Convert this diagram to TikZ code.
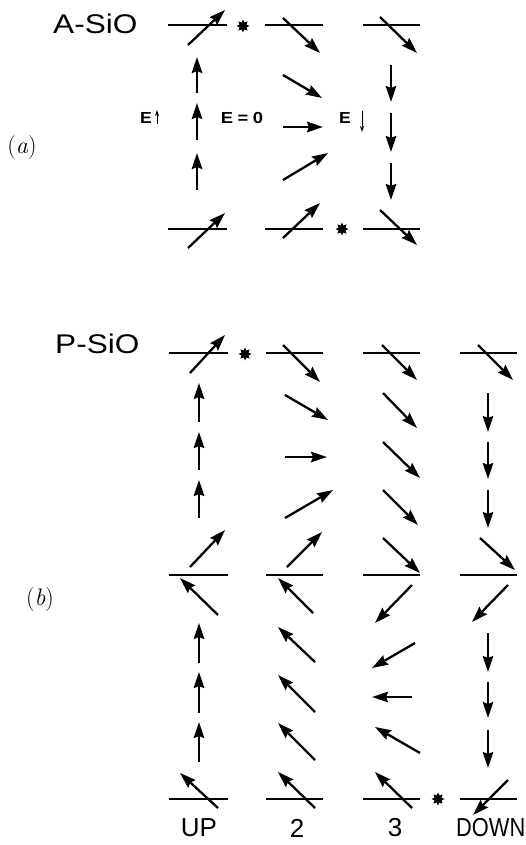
\documentclass[tikz,border=0pt]{standalone}
\usepackage{fontspec}
\newfontfamily\lab{Liberation Sans}
\usetikzlibrary{arrows.meta,shapes.geometric}
\newcommand\vecarr[3]{\coordinate (#1s) at (#2); \coordinate (#1e) at (#3); \draw[vec] (#1s) -- (#1e);}
\newcommand\lvline[4]{\coordinate (#1l) at (#2,#4); \coordinate (#1r) at (#3,#4); \draw[lvl] (#1l) -- (#1r);}
\begin{document}
\begin{tikzpicture}[x=1pt,y=-1pt,
  vec/.style={line width=2.3pt,-{Stealth[length=16pt,width=10.5pt,inset=2pt]}},
  lvl/.style={line width=1.5pt},
  smallvec/.style={line width=1pt,-{Stealth[length=6pt,width=4pt]}},
  starmark/.style={star,star points=8,star point ratio=1.7,fill=black,inner sep=0pt,minimum size=13pt},
  title/.style={font=\lab\fontsize{27}{27}\selectfont,inner sep=0pt,anchor=west},
  elab/.style={font=\lab\bfseries\fontsize{16}{16}\selectfont,inner sep=0pt},
  collab/.style={font=\lab\fontsize{26}{26}\selectfont,inner sep=0pt},
  partlab/.style={font=\fontsize{24}{24}\selectfont,inner sep=0pt}]
\useasboundingbox (0,0) rectangle (526,845);

% ---------- (a) ----------
\node[title] (asio) at (53,24) {\scalebox{1.17}[1]{A-SiO}};
\node[partlab] (pa) at (22,148) {(\textit{a})};

\lvline{la1}{168}{227}{25}
\lvline{la2}{265}{323}{25}
\lvline{la3}{363}{420}{25}
\lvline{la4}{168}{227}{229}
\lvline{la5}{265}{323}{229}
\lvline{la6}{363}{420}{229}

\vecarr{a1}{188,45}{225,10}
\vecarr{a2}{197,93}{197,57}
\vecarr{a3}{197,140}{197,103}
\vecarr{a4}{197,190}{197,153}
\vecarr{a5}{188,248}{225,213}
\vecarr{b1}{283,18}{320,53}
\vecarr{b2}{283,75}{322,98}
\vecarr{b3}{283,127}{323,127}
\vecarr{b4}{283,180}{328,153}
\vecarr{b5}{283,238}{320,203}
\vecarr{c1}{380,17}{417,53}
\vecarr{c2}{391,65}{391,102}
\vecarr{c3}{391,113}{391,152}
\vecarr{c4}{391,163}{391,200}
\vecarr{c5}{380,210}{417,245}

\node[starmark] (sa1) at (243,26) {};
\node[starmark] (sa2) at (342,229) {};

\node[elab] (eup) at (146,118) {\scalebox{1.1}[1]{E}};
\coordinate (eupa) at (157,124); \coordinate (eupb) at (157,110);
\draw[smallvec] (eupa) -- (eupb);
\node[elab] (ezero) at (242,118) {\scalebox{1.15}[1]{E\hspace{4pt}=\hspace{4pt}0}};
\node[elab] (edn) at (345,118) {\scalebox{1.1}[1]{E}};
\coordinate (edna) at (362,111); \coordinate (ednb) at (362,132);
\draw[smallvec] (edna) -- (ednb);

% ---------- (b) ----------
\node[title] (psio) at (55,344) {\scalebox{1.17}[1]{P-SiO}};
\node[partlab] (pb) at (40,600) {(\textit{b})};

\lvline{lb1}{169}{228}{353}
\lvline{lb2}{266}{323}{353}
\lvline{lb3}{363}{420}{353}
\lvline{lb4}{460}{517}{353}
\lvline{lb5}{169}{228}{575}
\lvline{lb6}{266}{323}{575}
\lvline{lb7}{363}{420}{575}
\lvline{lb8}{460}{517}{575}
\lvline{lb9}{169}{228}{799}
\lvline{lb10}{266}{323}{799}
\lvline{lb11}{363}{420}{799}
\lvline{lb12}{460}{517}{799}

\vecarr{u1}{190,373}{225,335}
\vecarr{u2}{199,422}{199,383}
\vecarr{u3}{199,470}{199,432}
\vecarr{u4}{199,518}{199,480}
\vecarr{u5}{190,567}{225,530}
\vecarr{v1}{283,345}{320,382}
\vecarr{v2}{285,395}{328,420}
\vecarr{v3}{285,457}{327,457}
\vecarr{v4}{285,518}{333,490}
\vecarr{v5}{287,567}{322,532}
\vecarr{w1}{382,345}{417,380}
\vecarr{w2}{383,393}{417,428}
\vecarr{w3}{383,442}{420,478}
\vecarr{w4}{383,490}{418,525}
\vecarr{w5}{383,538}{420,573}
\vecarr{x1}{478,345}{513,380}
\vecarr{x2}{488,393}{488,432}
\vecarr{x3}{488,442}{488,479}
\vecarr{x4}{488,490}{488,528}
\vecarr{x5}{480,538}{515,570}

\vecarr{u6}{218,615}{180,578}
\vecarr{u7}{199,663}{199,623}
\vecarr{u8}{199,713}{199,672}
\vecarr{u9}{199,762}{199,722}
\vecarr{u10}{218,808}{180,773}
\vecarr{v6}{313,613}{278,578}
\vecarr{v7}{315,662}{278,627}
\vecarr{v8}{315,712}{278,675}
\vecarr{v9}{315,760}{278,723}
\vecarr{v10}{315,808}{278,772}
\vecarr{w6}{412,585}{375,623}
\vecarr{w7}{415,643}{372,668}
\vecarr{w8}{412,697}{372,697}
\vecarr{w9}{420,753}{375,727}
\vecarr{w10}{412,808}{375,772}
\vecarr{x6}{508,585}{472,622}
\vecarr{x7}{488,633}{488,672}
\vecarr{x8}{488,682}{488,718}
\vecarr{x9}{488,730}{488,768}
\vecarr{x10}{508,780}{473,815}

\node[starmark] (sb1) at (245,354) {};
\node[starmark] (sb2) at (438,799) {};

\node[collab] (cup) at (199,828) {UP};
\node[collab] (c2) at (297,828) {2};
\node[collab] (c3) at (395,828) {3};
\node[collab,anchor=west] (cdown) at (456,828) {\scalebox{0.84}[1]{DOWN}};
\end{tikzpicture}
\end{document}
